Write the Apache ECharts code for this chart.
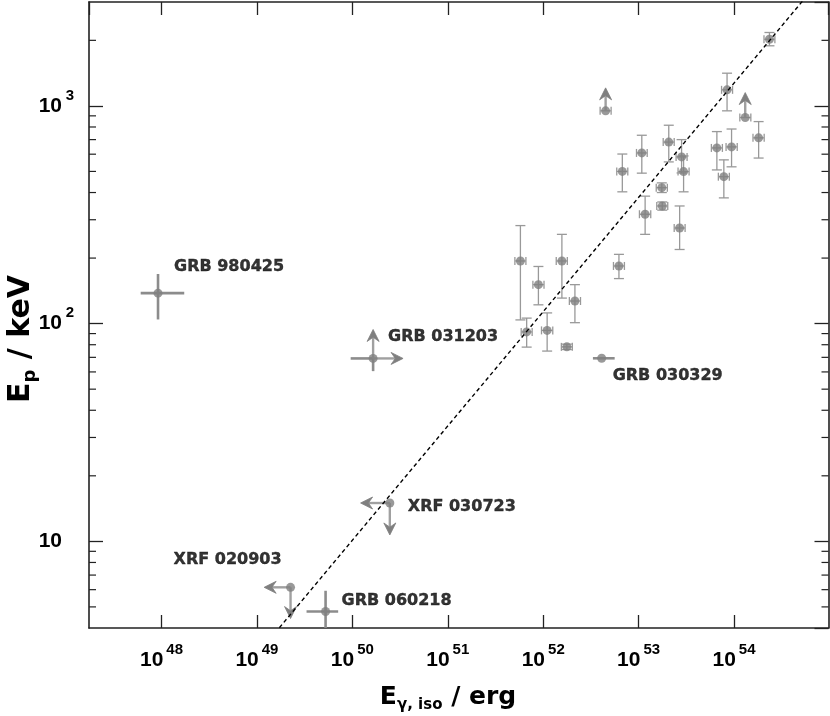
<!DOCTYPE html>
<html lang="en">
<head>
<meta charset="UTF-8">
<title>Ep - Eiso</title>
<script src="https://cdn.jsdelivr.net/npm/echarts@6/dist/echarts.min.js"></script>
<style>html,body{margin:0;padding:0;background:#fff;}</style>
</head>
<body>
<div id="main" style="width:830px;height:716px;"></div>
<script type="text/javascript">
// main sample: E_iso (erg) with low/high end, Ep (keV) with low/high end
let sampleE    = [2.35e54, 8.45e53, 1.81e54, 9.42e53, 6.61e53, 7.82e53, 2.07e53, 1.08e53, 6.75e52, 2.82e53, 2.96e53, 1.75e53, 1.77e53, 1.17e53, 2.69e53, 6.22e52, 5.77e51, 8.91e51, 1.57e52, 2.15e52, 6.71e51, 1.10e52, 1.77e52];
let sampleELo  = [2.06e54, 7.4e53, 1.58e54, 8.25e53, 5.79e53, 6.85e53, 1.81e53, 9.5e52, 5.9e52, 2.47e53, 2.59e53, 1.53e53, 1.55e53, 1.02e53, 2.36e53, 5.45e52, 5.05e51, 7.8e51, 1.37e52, 1.88e52, 5.88e51, 9.6e51, 1.55e52];
let sampleEHi  = [2.68e54, 9.65e53, 2.07e54, 1.08e54, 7.55e53, 8.93e53, 2.36e53, 1.23e53, 7.7e52, 3.22e53, 3.38e53, 2.0e53, 2.02e53, 1.34e53, 3.07e53, 7.1e52, 6.59e51, 1.02e52, 1.79e52, 2.46e52, 7.66e51, 1.26e52, 2.02e52];
let sampleEp   = [2023, 1185, 713, 648, 641, 473, 682, 608, 500, 583, 499, 421, 347, 318, 275, 184, 194, 151, 194, 127, 91.6, 93.1, 78.2];
let sampleEpLo = [1888, 949, 576, 525, 508, 378, 553, 491, 403, 492, 403, 400, 332, 257, 219, 161, 104, 122, 131, 101, 78, 74.8, 76];
let sampleEpHi = [2173, 1413, 847, 783, 762, 565, 815, 733, 601, 700, 589, 443, 362, 385, 347, 208, 282, 183, 257, 151, 106, 112, 80.5];

// lower limits on Ep (arrow up)
let limitE   = [4.51e52, 1.31e54];
let limitELo = [3.95e52, 1.15e54];
let limitEHi = [5.15e52, 1.5e54];
let limitEp  = [949, 884];

// named bursts
let namedGrb  = ['GRB 980425', 'GRB 031203', 'XRF 030723', 'XRF 020903', 'GRB 060218', 'GRB 030329'];
let namedE    = [9.19e47, 1.65e50, 2.47e50, 2.25e49, 5.24e49, 4.10e52];
let namedELo  = [6.05e47, 9.6e49, 2.47e50, 2.25e49, 3.31e49, 3.32e52];
let namedEHi  = [1.73e48, 1.65e50, 2.47e50, 2.25e49, 7.1e49, 5.61e52];
let namedEp   = [138, 69.2, 15.0, 6.15, 4.76, 69.3];
let namedEpLo = [104.5, 60.5, 15.0, 6.15, 3.6, 69.3];
let namedEpHi = [169, 69.2, 15.0, 6.15, 5.93, 69.3];

// limit arrows: start point -> tip
let arrowE     = [1.65e50, 1.65e50, 2.47e50, 2.47e50, 2.25e49, 2.25e49, 4.51e52, 1.31e54];
let arrowEp    = [69.2, 69.2, 15.0, 15.0, 6.15, 6.15, 949, 884];
let arrowTipE  = [1.65e50, 3.4e50, 1.22e50, 2.47e50, 1.19e49, 2.25e49, 4.51e52, 1.31e54];
let arrowTipEp = [94, 69.2, 15.0, 10.7, 6.15, 4.42, 1210, 1151];

// Ep - Eiso relation (dashed)
let fitE  = [1e49, 1e55];
let fitEp = [3.02, 4262];

let yMinorTicks = [5, 6, 7, 8, 9, 20, 30, 40, 50, 60, 70, 80, 90, 200, 300, 400, 500, 600, 700, 800, 900, 2000];

// label placement relative to the point (px)
let labelOffsets = [[16, -26, 'left'], [15, -22, 'left'], [18, 4, 'left'], [-9, -27, 'right'], [16, -11, 'left'], [11, 18, 'left']];

let frameColor = '#222';
let pointColor = '#7f7f7f';
let barColor = '#999';
let tickFont = '"Liberation Sans", Arial, sans-serif';
let font = '"DejaVu Sans", sans-serif';

let myChart = echarts.init(document.getElementById('main'));

function isDecade(v) {
    let l = Math.log10(v);
    return Math.abs(l - Math.round(l)) < 1e-6;
}

let xRich = {
    b: {fontFamily: tickFont, fontWeight: 'bold', fontSize: 21, color: '#000', lineHeight: 36},
    s: {fontFamily: tickFont, fontWeight: 'bold', fontSize: 15, color: '#000', verticalAlign: 'top', lineHeight: 18, padding: [0, 0, 0, 3]}
};
let yRich = {
    b: {fontFamily: tickFont, fontWeight: 'bold', fontSize: 21, color: '#000', lineHeight: 36},
    s: {fontFamily: tickFont, fontWeight: 'bold', fontSize: 15, color: '#000', verticalAlign: 'top', lineHeight: 18, width: 10, padding: [0, 0, 0, 2]},
    w: {fontSize: 15, width: 10, lineHeight: 18, padding: [0, 0, 0, 2]}
};

function xAx(pos) {
    return {
        type: 'log', position: pos,
        min: Math.pow(10, 47.24), max: Math.pow(10, 54.99),
        axisLine: {show: true, lineStyle: {color: frameColor, width: 1.6}},
        axisTick: {show: true, inside: true, length: 13, lineStyle: {color: frameColor, width: 1.3}},
        axisLabel: {
            show: pos === 'bottom', margin: 14, showMinLabel: false, showMaxLabel: false,
            formatter: function (v) {
                if (!isDecade(v)) return '';
                return '{b|10}{s|' + Math.round(Math.log10(v)) + '}';
            },
            rich: xRich
        },
        splitLine: {show: false}, minorTick: {show: false}
    };
}

function yAx(pos) {
    return {
        type: 'log', position: pos,
        min: 4, max: 3000,
        axisLine: {show: true, lineStyle: {color: frameColor, width: 1.6}},
        axisTick: {show: true, inside: true, length: 14, lineStyle: {color: frameColor, width: 1.3}},
        axisLabel: {
            show: pos === 'left', margin: 15, align: 'right', showMinLabel: false, showMaxLabel: false,
            formatter: function (v) {
                if (!isDecade(v)) return '';
                let k = Math.round(Math.log10(v));
                return k === 1 ? '{b|10}{w| }' : '{b|10}{s|' + k + '}';
            },
            rich: yRich
        },
        splitLine: {show: false}, minorTick: {show: false}
    };
}

function renderBars(params, api) {
    let c = api.coord([api.value(0), api.value(3)]);
    let lo = api.coord([api.value(1), api.value(4)]);
    let hi = api.coord([api.value(2), api.value(5)]);
    let st = {stroke: barColor, lineWidth: 1.3, fill: null};
    let kids = [];
    if (Math.abs(lo[1] - hi[1]) > 1) {
        kids.push({type: 'line', shape: {x1: c[0], y1: lo[1], x2: c[0], y2: hi[1]}, style: st});
        kids.push({type: 'line', shape: {x1: c[0] - 5, y1: lo[1], x2: c[0] + 5, y2: lo[1]}, style: st});
        kids.push({type: 'line', shape: {x1: c[0] - 5, y1: hi[1], x2: c[0] + 5, y2: hi[1]}, style: st});
    }
    kids.push({type: 'line', shape: {x1: lo[0], y1: c[1], x2: hi[0], y2: c[1]}, style: st});
    kids.push({type: 'line', shape: {x1: lo[0], y1: c[1] - 4, x2: lo[0], y2: c[1] + 4}, style: st});
    kids.push({type: 'line', shape: {x1: hi[0], y1: c[1] - 4, x2: hi[0], y2: c[1] + 4}, style: st});
    return {type: 'group', children: kids};
}

function renderCross(params, api) {
    let c = api.coord([api.value(0), api.value(3)]);
    let lo = api.coord([api.value(1), api.value(4)]);
    let hi = api.coord([api.value(2), api.value(5)]);
    let st = {stroke: '#8c8c8c', lineWidth: 2.6, fill: null};
    return {type: 'group', children: [
        {type: 'line', shape: {x1: c[0], y1: lo[1], x2: c[0], y2: hi[1]}, style: st},
        {type: 'line', shape: {x1: lo[0], y1: c[1], x2: hi[0], y2: c[1]}, style: st}
    ]};
}

function renderArrow(params, api) {
    let a = api.coord([api.value(0), api.value(1)]);
    let b = api.coord([api.value(2), api.value(3)]);
    let dx = b[0] - a[0], dy = b[1] - a[1];
    let len = Math.sqrt(dx * dx + dy * dy);
    let ux = dx / len, uy = dy / len, px = -uy, py = ux;
    let hl = 12, hw = 6;
    let bx = b[0] - ux * hl, by = b[1] - uy * hl;
    let nx = b[0] - ux * hl * 0.65, ny = b[1] - uy * hl * 0.65;
    return {type: 'group', children: [
        {type: 'line', shape: {x1: a[0], y1: a[1], x2: nx, y2: ny}, style: {stroke: '#a0a0a0', lineWidth: 2.4}},
        {type: 'polygon', shape: {points: [[b[0], b[1]], [bx + px * hw, by + py * hw], [nx, ny], [bx - px * hw, by - py * hw]]},
            style: {fill: '#7f7f7f', stroke: '#7f7f7f', lineWidth: 0.8}}
    ]};
}

let barData = sampleE.map(function (e, i) {
    return [e, sampleELo[i], sampleEHi[i], sampleEp[i], sampleEpLo[i], sampleEpHi[i]];
}).concat(limitE.map(function (e, i) {
    return [e, limitELo[i], limitEHi[i], limitEp[i], limitEp[i], limitEp[i]];
}));

let crossData = namedE.map(function (e, i) {
    return [e, namedELo[i], namedEHi[i], namedEp[i], namedEpLo[i], namedEpHi[i]];
});

let arrowData = arrowE.map(function (e, i) {
    return [e, arrowEp[i], arrowTipE[i], arrowTipEp[i]];
});

let pointData = sampleE.map(function (e, i) { return [e, sampleEp[i]]; })
    .concat(limitE.map(function (e, i) { return [e, limitEp[i]]; }))
    .concat(namedE.map(function (e, i) { return [e, namedEp[i]]; }));

let labelData = namedGrb.map(function (n, i) {
    let o = labelOffsets[i];
    return {
        value: [namedE[i], namedEp[i]], name: n,
        label: {show: true, position: [o[0], o[1]], align: o[2], verticalAlign: 'middle'}
    };
});

let xTitleRich = {
    e: {fontFamily: font, fontWeight: 'bold', fontSize: 25, fill: '#000', lineHeight: 32},
    p: {fontFamily: font, fontWeight: 'bold', fontSize: 15, fill: '#000', verticalAlign: 'bottom', lineHeight: 16}
};
let yTitleRich = {
    e: {fontFamily: font, fontWeight: 'bold', fontSize: 30, fill: '#000', lineHeight: 36},
    p: {fontFamily: font, fontWeight: 'bold', fontSize: 18, fill: '#000', verticalAlign: 'bottom', lineHeight: 18}
};

option = {
    animation: false,
    grid: {left: 89, right: 1.5, top: 2, bottom: 88},
    xAxis: [xAx('bottom'), xAx('top')],
    yAxis: [yAx('left'), yAx('right')],
    graphic: [
        {type: 'text', x: 21, y: 339, rotation: Math.PI / 2,
            style: {text: '{e|E}{p|p}{e| / keV}', align: 'center', verticalAlign: 'middle', rich: yTitleRich}},
        {type: 'text', x: 448, y: 697,
            style: {text: '{e|E}{p|γ, iso}{e| / erg}', align: 'center', verticalAlign: 'middle', rich: xTitleRich}}
    ],
    series: [
        {
            type: 'custom', name: 'minor', renderItem: function (params, api) {
                let p = api.coord([1e50, api.value(1)]);
                let cs = params.coordSys;
                let st = {stroke: frameColor, lineWidth: 1.2};
                return {type: 'group', children: [
                    {type: 'line', shape: {x1: cs.x, y1: p[1], x2: cs.x + 7, y2: p[1]}, style: st},
                    {type: 'line', shape: {x1: cs.x + cs.width - 7, y1: p[1], x2: cs.x + cs.width, y2: p[1]}, style: st}
                ]};
            },
            data: yMinorTicks.map(function (v) { return [1e50, v]; }),
            silent: true, clip: false, z: 1
        },
        {
            type: 'custom', name: 'errors', renderItem: renderBars,
            encode: {x: [0, 1, 2], y: [3, 4, 5]},
            data: barData, clip: true, z: 2
        },
        {
            type: 'custom', name: 'crosses', renderItem: renderCross,
            encode: {x: [0, 1, 2], y: [3, 4, 5]},
            data: crossData, clip: true, z: 2
        },
        {
            type: 'custom', name: 'limits', renderItem: renderArrow,
            encode: {x: [0, 2], y: [1, 3]},
            data: arrowData, clip: true, z: 3
        },
        {
            type: 'scatter', name: 'points', symbol: 'circle', symbolSize: 9,
            itemStyle: {color: pointColor},
            data: pointData, z: 4
        },
        {
            type: 'line', name: 'relation', data: fitE.map(function (e, i) { return [e, fitEp[i]]; }),
            showSymbol: false, symbol: 'none', clip: true,
            lineStyle: {color: '#000', width: 1.4, type: [4, 3]}, z: 5
        },
        {
            type: 'scatter', name: 'names', symbolSize: 0, data: labelData, z: 6, silent: true,
            label: {
                formatter: '{b}', fontFamily: font, fontWeight: 'bold', fontSize: 16, color: '#000',
                textBorderColor: '#000', textBorderWidth: 0.4
            }
        }
    ]
};
myChart.setOption(option);
</script>
</body>
</html>
